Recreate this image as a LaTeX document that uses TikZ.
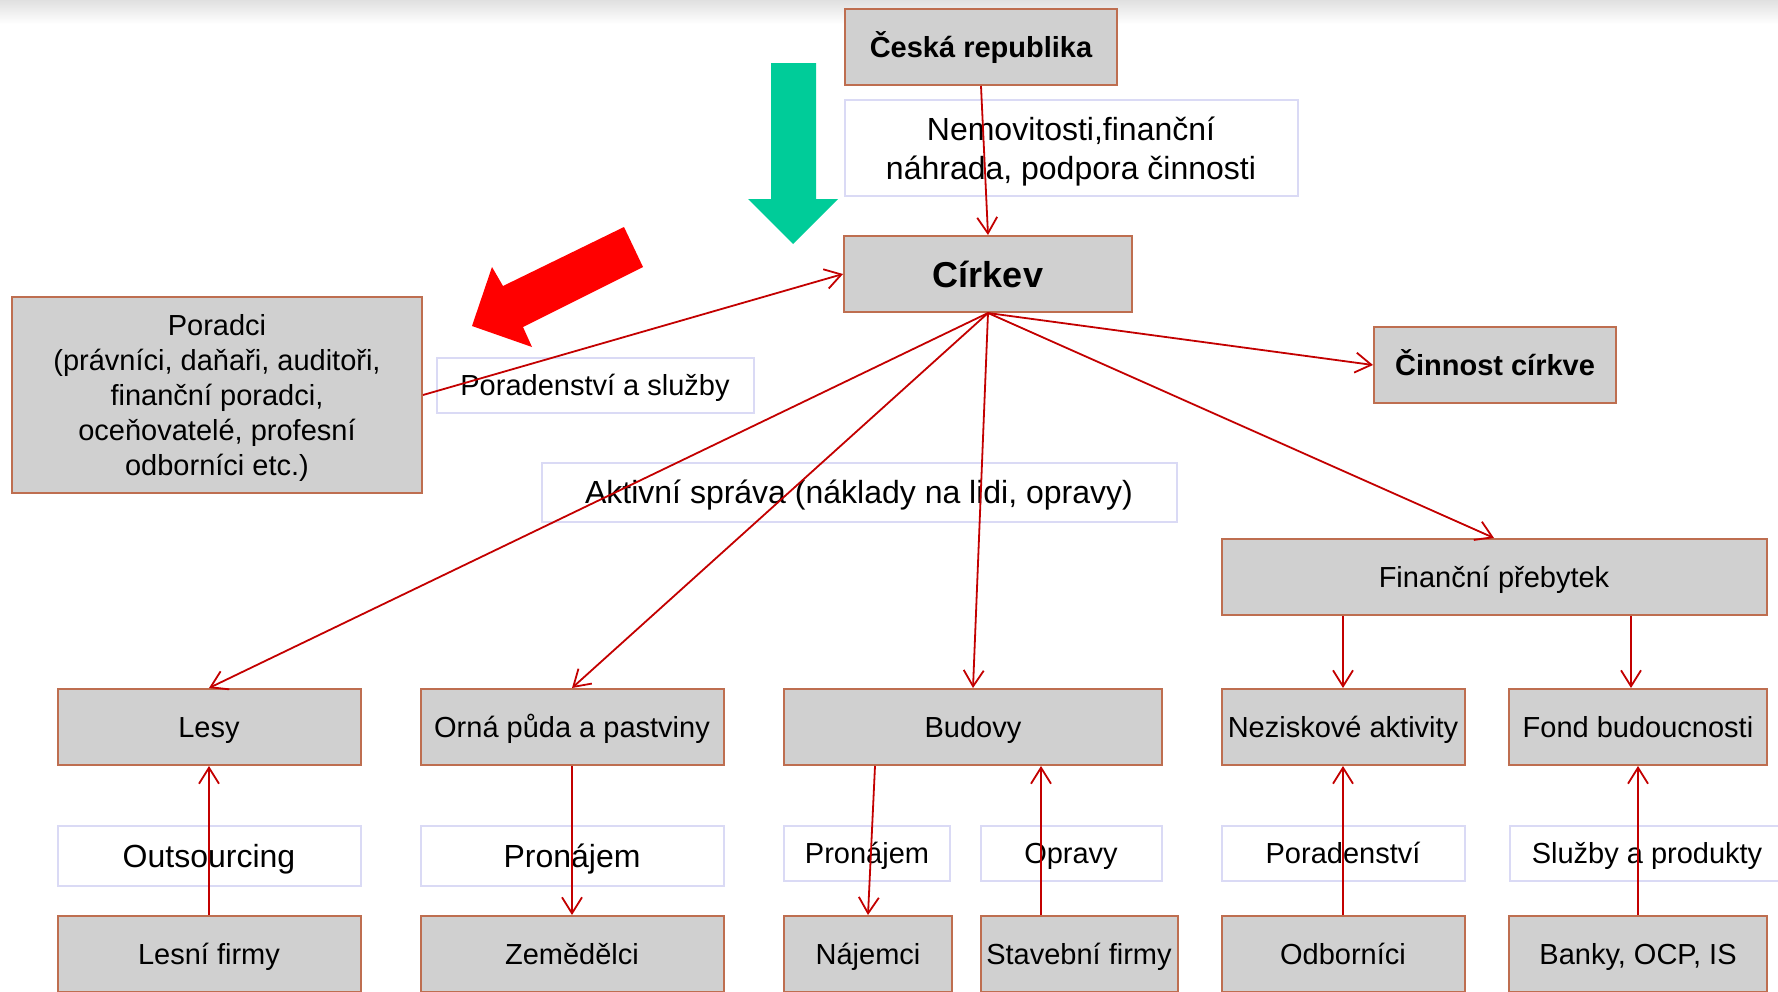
\documentclass[tikz,border=0pt]{standalone}
\usepackage{fontspec}
\setmainfont{Liberation Sans}
\usetikzlibrary{arrows.meta}

\definecolor{boxfill}{RGB}{208,208,208}
\definecolor{boxline}{RGB}{190,110,80}
\definecolor{labelline}{RGB}{218,218,245}
\definecolor{connred}{RGB}{195,0,0}
\definecolor{bigarrowgreen}{RGB}{0,204,153}

\begin{document}
\begin{tikzpicture}[x=1pt, y=-1pt,
    graybox/.style={draw=boxline, fill=boxfill, line width=2pt, inner sep=0pt, align=center,
        font=\fontsize{29}{35}\selectfont, text height=21pt, text depth=0pt},
    boldbox/.style={graybox, font=\fontsize{29}{35}\selectfont\bfseries},
    labelbox/.style={draw=labelline, line width=2pt, inner sep=0pt, align=center,
        font=\fontsize{29}{35}\selectfont, text height=21pt, text depth=0pt},
    biglabel/.style={labelbox, font=\fontsize{32}{39}\selectfont, text height=23pt},
    conn/.style={draw=connred, line width=1.8pt, -{Straight Barb[length=16pt,width=20pt]}}]
    \useasboundingbox (0,0) rectangle (1778,991);
    \clip (0,0) rectangle (1778,991);
    % top shading
    \shade [top color=black!12, bottom color=white] (0,0) rectangle (1778,24);
    % big arrows
    \fill [bigarrowgreen] (771,63) -- (816,63) -- (816,199) -- (838,199) -- (793,244) -- (748,199) -- (771,199) -- cycle;
    \fill [red] (624,227) -- (643,267) -- (523,327) -- (532,347) -- (472,326) -- (492,267) -- (503,286) -- cycle;
    % state and church
    \node [boldbox, minimum width=272, minimum height=76] (cr) at (981,47) {Česká republika};
    \node [biglabel, text height=, minimum width=453, minimum height=96] (nem) at (1071,148) {Nemovitosti,finanční\\náhrada, podpora činnosti};
    \node [graybox, font=\fontsize{36}{42}\selectfont\bfseries, text height=26pt, minimum width=288, minimum height=76] (cirkev) at (988,274) {Církev};
    % advisers
    \node [graybox, text height=, minimum width=410, minimum height=196] (poradci) at (217,395)
        {Poradci\\(právníci, daňaři, auditoři,\\finanční poradci,\\oceňovatelé, profesní\\odborníci etc.)};
    \node [labelbox, minimum width=317, minimum height=55] (porsl) at (595,385) {Poradenství a služby};
    \node [boldbox, minimum width=242, minimum height=76] (cinnost) at (1495,365) {Činnost církve};
    \node [biglabel, minimum width=635, minimum height=59] (aktiv) at (859,492) {Aktivní správa (náklady na lidi, opravy)};
    \node [graybox, minimum width=545, minimum height=76] (fin) at (1494,577) {Finanční přebytek};
    % assets
    \node [graybox, minimum width=303, minimum height=76] (lesy) at (209,727) {Lesy};
    \node [graybox, minimum width=303, minimum height=76] (orna) at (572,727) {Orná půda a pastviny};
    \node [graybox, minimum width=378, minimum height=76] (budovy) at (973,727) {Budovy};
    \node [graybox, minimum width=243, minimum height=76] (nezisk) at (1343,727) {Neziskové aktivity};
    \node [graybox, minimum width=258, minimum height=76] (fond) at (1638,727) {Fond budoucnosti};
    % relations
    \node [biglabel, minimum width=303, minimum height=60] (outs) at (209,856) {Outsourcing};
    \node [biglabel, minimum width=303, minimum height=60] (pron) at (572,856) {Pronájem};
    \node [labelbox, minimum width=166, minimum height=55] (pronb) at (867,853) {Pronájem};
    \node [labelbox, minimum width=181, minimum height=55] (opravy) at (1071,853) {Opravy};
    \node [labelbox, minimum width=243, minimum height=55] (porad) at (1343,853) {Poradenství};
    \node [labelbox, minimum width=274, minimum height=55] (sluz) at (1647,853) {Služby a produkty};
    % partners
    \node [graybox, minimum width=303, minimum height=76] (lesni) at (209,954) {Lesní firmy};
    \node [graybox, minimum width=303, minimum height=76] (zem) at (572,954) {Zemědělci};
    \node [graybox, minimum width=168, minimum height=76] (najemci) at (868,954) {Nájemci};
    \node [graybox, minimum width=197, minimum height=76] (stav) at (1079,954) {Stavební firmy};
    \node [graybox, minimum width=243, minimum height=76] (odb) at (1343,954) {Odborníci};
    \node [graybox, minimum width=258, minimum height=76] (banky) at (1638,954) {Banky, OCP, IS};
    % connectors
    \draw [conn] (cr.south) -- (cirkev.north);
    \draw [conn] (poradci.east) -- (cirkev.west);
    \draw [conn] (cirkev.south) -- (cinnost.west);
    \draw [conn] (cirkev.south) -- (fin.north);
    \draw [conn] (cirkev.south) -- (lesy.north);
    \draw [conn] (cirkev.south) -- (orna.north);
    \draw [conn] (cirkev.south) -- (budovy.north);
    \draw [conn] (nezisk.north |- fin.south) -- (nezisk.north);
    \draw [conn] ([xshift=-7pt]fond.north |- fin.south) -- ([xshift=-7pt]fond.north);
    \draw [conn] (lesni.north) -- (lesy.south);
    \draw [conn] (orna.south) -- (zem.north);
    \draw [conn] ([xshift=7pt]najemci.north |- budovy.south) -- (najemci.north);
    \draw [conn] ([xshift=-38pt]stav.north) -- ([xshift=-38pt]stav.north |- budovy.south);
    \draw [conn] (odb.north) -- (nezisk.south);
    \draw [conn] (banky.north) -- (fond.south);
\end{tikzpicture}
\end{document}
